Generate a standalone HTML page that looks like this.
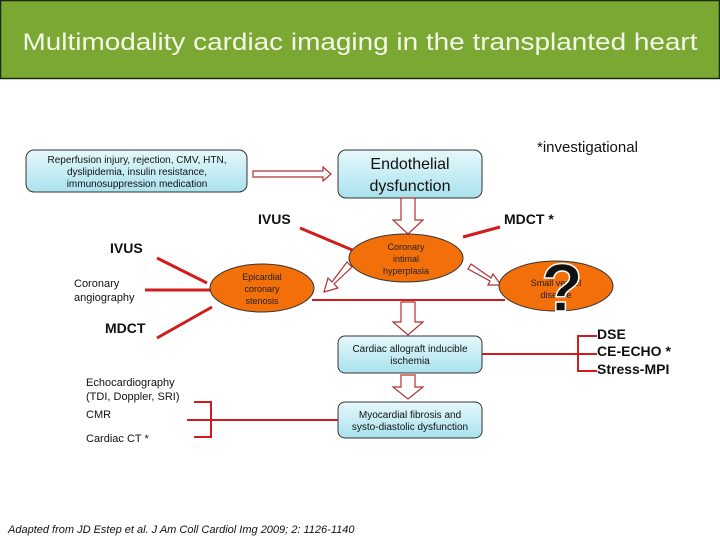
<!DOCTYPE html>
<html><head><meta charset="utf-8"><style>
html,body{margin:0;padding:0;background:#fff}
svg text{font-family:"Liberation Sans",sans-serif}
</style></head><body>
<svg width="720" height="540" viewBox="0 0 720 540" xmlns="http://www.w3.org/2000/svg">
<defs>
<linearGradient id="cy" x1="0" y1="0" x2="0" y2="1"><stop offset="0" stop-color="#e6f8fb"/><stop offset="1" stop-color="#a9e2ee"/></linearGradient>
</defs>
<rect x="0.5" y="0.5" width="719" height="78" fill="#7aa832" stroke="#1a2a0a" stroke-width="1.5"/>
<text x="360" y="50" text-anchor="middle" font-size="24" textLength="675" lengthAdjust="spacingAndGlyphs" fill="#f4f8e8">Multimodality cardiac imaging in the transplanted heart</text>

<g stroke="#333" stroke-width="1" fill="url(#cy)">
<rect x="26" y="150" width="221" height="42" rx="8"/>
<rect x="338" y="150" width="144" height="48" rx="8"/>
<rect x="338" y="336" width="144" height="37" rx="7"/>
<rect x="338" y="402" width="144" height="36" rx="7"/>
</g>
<g font-size="10" fill="#111" text-anchor="middle">
<text x="137" y="163">Reperfusion injury, rejection, CMV, HTN,</text>
<text x="137" y="175">dyslipidemia, insulin resistance,</text>
<text x="137" y="187">immunosuppression medication</text>
<text x="410" y="352">Cardiac allograft inducible</text>
<text x="410" y="364">ischemia</text>
<text x="410" y="418">Myocardial fibrosis and</text>
<text x="410" y="430">systo-diastolic dysfunction</text>
</g>
<text x="410" y="169" font-size="16" text-anchor="middle" fill="#111">Endothelial</text>
<text x="410" y="191" font-size="16" text-anchor="middle" fill="#111">dysfunction</text>
<text x="537" y="152" font-size="15" fill="#111">*investigational</text>

<g fill="#fff" stroke="#b03030" stroke-width="1.2">
<path d="M253,171 h70 v-4 l8,7 l-8,7 v-4 h-70 z"/>
<path d="M401,198 h14 v22 h8 l-15,14 l-15,-14 h8 z"/>
<path d="M401,302 h14 v20 h8 l-15,13 l-15,-13 h8 z"/>
<path d="M401,375 h14 v12 h8 l-15,12 l-15,-12 h8 z"/>
<path d="M347,262 l5,5 l-18,17 l4,4 l-14,4 l4,-14 l4,4 z"/>
<path d="M471,264 l-3,5 l22,12 l-2,4 l13,0 l-8,-11 l-2,4 z"/>
</g>

<g stroke="#d01c1c" stroke-width="3" fill="none">
<line x1="300" y1="228" x2="357" y2="252"/>
<line x1="463" y1="237" x2="500" y2="227"/>
<line x1="157" y1="258" x2="207" y2="283"/>
<line x1="145" y1="290" x2="210" y2="290"/>
<line x1="157" y1="338" x2="212" y2="307"/>
</g>
<g stroke="#d01c1c" stroke-width="2" fill="none">
<line x1="312" y1="300" x2="505" y2="300"/>
<line x1="482" y1="354" x2="597" y2="354"/>
<path d="M597,336 h-19 v35 h19"/>
<line x1="187" y1="420" x2="338" y2="420"/>
<path d="M194,402 h17 v35 h-17"/>
</g>

<g fill="#f36f0a" stroke="#333" stroke-width="1">
<ellipse cx="406" cy="258" rx="57" ry="24"/>
<ellipse cx="262" cy="288" rx="52" ry="24"/>
<ellipse cx="556" cy="286" rx="57" ry="25"/>
</g>
<g font-size="9" fill="#222" text-anchor="middle">
<text x="406" y="250">Coronary</text>
<text x="406" y="262">intimal</text>
<text x="406" y="274">hyperplasia</text>
<text x="262" y="280">Epicardial</text>
<text x="262" y="292">coronary</text>
<text x="262" y="304">stenosis</text>
<text x="556" y="286">Small vessel</text>
<text x="556" y="298">disease</text>
</g>
<text x="562" y="311" font-size="68" font-weight="bold" text-anchor="middle" fill="#111" stroke="#fff" stroke-width="1.5">?</text>

<g font-size="14" font-weight="bold" fill="#111">
<text x="258" y="224">IVUS</text>
<text x="504" y="224">MDCT *</text>
<text x="110" y="253">IVUS</text>
<text x="105" y="333">MDCT</text>
<text x="597" y="339">DSE</text>
<text x="597" y="356">CE-ECHO *</text>
<text x="597" y="374">Stress-MPI</text>
</g>
<g font-size="11" fill="#111">
<text x="74" y="287">Coronary</text>
<text x="74" y="301">angiography</text>
<text x="86" y="386">Echocardiography</text>
<text x="86" y="400">(TDI, Doppler, SRI)</text>
<text x="86" y="418">CMR</text>
<text x="86" y="442">Cardiac CT *</text>
</g>
<text x="8" y="533" font-size="11" font-style="italic" fill="#111">Adapted from JD Estep et al. J Am Coll Cardiol Img  2009; 2: 1126-1140</text>
</svg>
</body></html>
